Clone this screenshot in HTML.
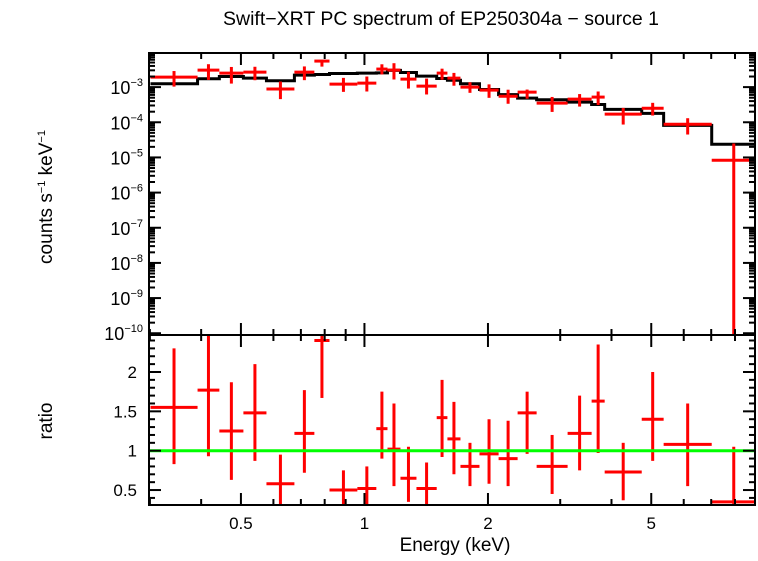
<!DOCTYPE html>
<html><head><meta charset="utf-8"><style>
body{margin:0;background:#fff;width:758px;height:556px;overflow:hidden}
svg text{font-family:"Liberation Sans",sans-serif;fill:#000}
</style></head><body>
<svg id="chart" width="758" height="556" xmlns="http://www.w3.org/2000/svg">
<text x="441" y="25" font-size="19" text-anchor="middle" textLength="436" lengthAdjust="spacingAndGlyphs">Swift−XRT PC spectrum of EP250304a − source 1</text>
<text transform="translate(52,197) rotate(-90)" font-size="19" text-anchor="middle">counts s<tspan font-size="11" dy="-7">−1</tspan><tspan dy="7"> keV</tspan><tspan font-size="11" dy="-7">−1</tspan></text>
<text transform="translate(52,421) rotate(-90)" font-size="19" text-anchor="middle">ratio</text>
<text x="455" y="551" font-size="19" text-anchor="middle">Energy (keV)</text>
<g id="g"></g>
</svg>
<script>
const binEdges=[0.301,0.392,0.443,0.507,0.577,0.675,0.755,0.822,0.961,1.069,1.138,1.224,1.339,1.50,1.593,1.714,1.907,2.123,2.362,2.628,3.127,3.578,3.85,4.74,5.36,7.02,8.99];
const counts=[1.93e-3,3.05e-3,2.5e-3,2.67e-3,8.8e-4,2.67e-3,5.5e-3,1.22e-3,1.3e-3,3.26e-3,3.05e-3,1.69e-3,1.07e-3,2.5e-3,1.8e-3,1.0e-3,8.2e-4,5.5e-4,7.2e-4,3.5e-4,4.55e-4,5.2e-4,1.7e-4,2.5e-4,8.8e-5,8.3e-6];
const ratio=[1.55,1.77,1.25,1.48,0.58,1.22,2.4,0.5,0.52,1.28,1.02,0.65,0.52,1.42,1.15,0.8,0.96,0.9,1.48,0.8,1.22,1.63,0.73,1.4,1.08,0.35];
const ratioLo=[0.83,0.93,0.63,0.87,0.3,0.72,1.67,0.3,0.3,0.9,0.55,0.35,0.3,0.92,0.7,0.55,0.58,0.55,0.96,0.45,0.75,0.97,0.37,0.87,0.55,0.0];
const ratioHi=[2.3,2.6,1.87,2.1,0.95,1.77,2.6,0.75,0.8,1.75,1.6,1.05,0.85,1.9,1.62,1.1,1.4,1.38,1.75,1.2,1.7,2.35,1.1,2.0,1.6,1.05];
const xTicksMajor=[0.5,1,2,5];
const xTicksMinor=[0.3,0.4,0.6,0.7,0.8,0.9,3,4,6,7,8];
const yTickExps=[-10,-9,-8,-7,-6,-5,-4,-3];
const rTicksMajor=[0.5,1,1.5,2];

const L=149,R=755,T1=53,B1=335,T2=335,B2=505;
const xmin=Math.log10(0.2985),xmax=Math.log10(8.95);
const X=e=>L+(Math.log10(e)-xmin)/(xmax-xmin)*(R-L);
const ylmin=-10.05,ylmax=-2.03;
const Y1=v=>{let l=Math.log10(Math.max(v,1e-12));l=Math.max(ylmin,Math.min(ylmax,l));return B1-(l-ylmin)/(ylmax-ylmin)*(B1-T1);};
const rmin=0.31,rmax=2.47;
const Y2=v=>{v=Math.max(rmin,Math.min(rmax,v));return B2-(v-rmin)/(rmax-rmin)*(B2-T2);};
const g=document.getElementById('g');
const NS='http://www.w3.org/2000/svg';
function mk(t,a){const e=document.createElementNS(NS,t);for(const k in a)e.setAttribute(k,a[k]);g.appendChild(e);return e;}
function line(x1,y1,x2,y2,c,w){return mk('line',{x1,y1,x2,y2,stroke:c,'stroke-width':w});}

const model=counts.map((c,i)=>c/ratio[i]);
let d='';
model.forEach((m,i)=>{const x0=X(binEdges[i]),x1=X(binEdges[i+1]),y=Y1(m);d+=(i?'L':'M')+x0+' '+y+' L'+x1+' '+y+' ';});
let mp=mk('path',{d,fill:'none',stroke:'#000','stroke-width':3});


counts.forEach((c,i)=>{
  const e0=binEdges[i],e1=binEdges[i+1],ec=Math.sqrt(e0*e1);
  const xc=X(ec);
  const gr=document.createElementNS(NS,'g');
  
  
  g.appendChild(gr);
  const lo=c*ratioLo[i]/ratio[i],hi=c*ratioHi[i]/ratio[i];
  const a=document.createElementNS(NS,'line');
  a.setAttribute('x1',X(e0));a.setAttribute('x2',X(e1));a.setAttribute('y1',Y1(c));a.setAttribute('y2',Y1(c));a.setAttribute('stroke','#f00');a.setAttribute('stroke-width',3);gr.appendChild(a);
  const b=document.createElementNS(NS,'line');
  b.setAttribute('x1',xc);b.setAttribute('x2',xc);b.setAttribute('y1',Y1(lo>0?lo:1e-12));b.setAttribute('y2',Y1(hi));b.setAttribute('stroke','#f00');b.setAttribute('stroke-width',3);gr.appendChild(b);
  const gr2=document.createElementNS(NS,'g');
  
  
  g.appendChild(gr2);
  const a2=document.createElementNS(NS,'line');
  a2.setAttribute('x1',X(e0));a2.setAttribute('x2',X(e1));a2.setAttribute('y1',Y2(ratio[i]));a2.setAttribute('y2',Y2(ratio[i]));a2.setAttribute('stroke','#f00');a2.setAttribute('stroke-width',3);gr2.appendChild(a2);
  const b2=document.createElementNS(NS,'line');
  b2.setAttribute('x1',xc);b2.setAttribute('x2',xc);b2.setAttribute('y1',Y2(ratioLo[i]));b2.setAttribute('y2',Y2(ratioHi[i]));b2.setAttribute('stroke','#f00');b2.setAttribute('stroke-width',3);gr2.appendChild(b2);
});
const u=line(L,Y2(1),R,Y2(1),'#0f0',3);


[[T1,B1],[T2,B2]].forEach(([t,b],k)=>{
  const r=mk('rect',{x:L,y:t,width:R-L,height:b-t,fill:'none',stroke:'#000','stroke-width':2});
  
  
  xTicksMajor.forEach(v=>{line(X(v),t,X(v),t+12,'#000',2);line(X(v),b,X(v),b-12,'#000',2);});
  xTicksMinor.forEach(v=>{line(X(v),t,X(v),t+6,'#000',2);line(X(v),b,X(v),b-6,'#000',2);});
});
for(let ex=-11;ex<=-2;ex++){
  for(let m=1;m<10;m++){const v=m*Math.pow(10,ex);const y=Y1(v);if(Math.log10(v)<ylmin||Math.log10(v)>ylmax)continue;const len=m==1?12:6;line(L,y,L+len,y,'#000',2);line(R,y,R-len,y,'#000',2);}
}
yTickExps.forEach(ex=>{
  const t=mk('text',{x:L-6,y:Y1(Math.pow(10,ex))+7,'font-size':18,'text-anchor':'end'});
  
  
  t.innerHTML='10<tspan font-size="11" dy="-8">−'+(-ex)+'</tspan>';
});
for(let v=0.4;v<=2.45;v+=0.1){const vv=Math.round(v*10)/10;const maj=Math.abs(vv*2-Math.round(vv*2))<1e-6;const len=maj?12:6;line(L,Y2(vv),L+len,Y2(vv),'#000',2);line(R,Y2(vv),R-len,Y2(vv),'#000',2);}
rTicksMajor.forEach(v=>{
  const t=mk('text',{x:L-12,y:Y2(v)+6,'font-size':17,'text-anchor':'end'});
  
  
  t.textContent=String(v);
});
xTicksMajor.forEach(v=>{
  const t=mk('text',{x:X(v),y:B2+24,'font-size':17,'text-anchor':'middle'});
  
  
  t.textContent=String(v);
});
</script>
</body></html>
